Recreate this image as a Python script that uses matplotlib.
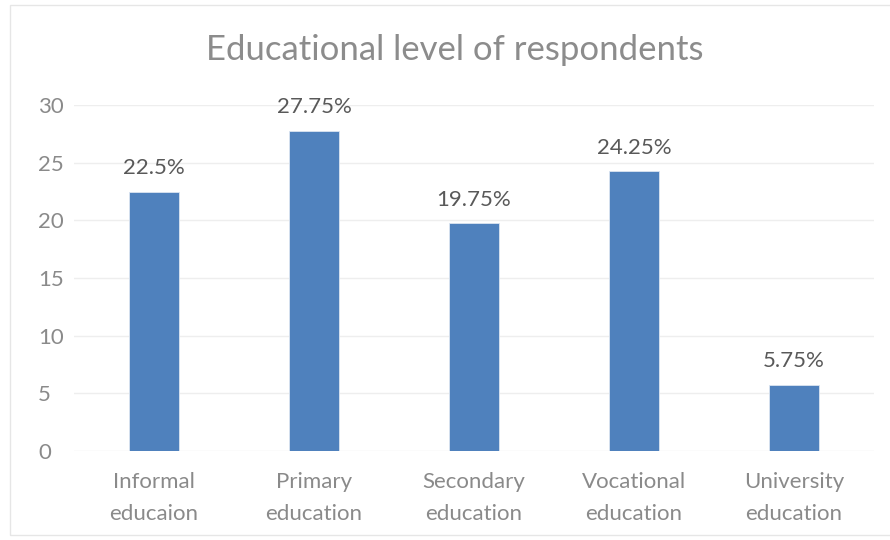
import matplotlib
matplotlib.use("Agg")
import matplotlib.pyplot as plt
from matplotlib.patches import Rectangle

categories = ["Informal\neducaion", "Primary\neducation", "Secondary\neducation",
              "Vocational\neducation", "University\neducation"]
values = [22.5, 27.75, 19.75, 24.25, 5.75]
value_labels = ["22.5%", "27.75%", "19.75%", "24.25%", "5.75%"]
y_ticks = [0, 5, 10, 15, 20, 25, 30]

plt.rcParams["font.family"] = ["Lato", "DejaVu Sans"]

fig = plt.figure(figsize=(8.9, 5.4), dpi=100)
ax = fig.add_axes([74 / 890, 1 - 451 / 540, 800 / 890, 346 / 540])

# chart area frame
fig.patches.append(Rectangle((10 / 890, 5 / 540), 1.0, 530 / 540, transform=fig.transFigure,
                             fill=False, edgecolor="#e6e6e6", linewidth=1.0, zorder=0))

x = range(len(categories))
ax.bar(x, values, width=0.3125, color="#4f81bd", edgecolor="#dbe5f1", linewidth=0.6, zorder=3)

for xi, v, lab in zip(x, values, value_labels):
    ax.annotate(lab, (xi, v), xytext=(0, 17), textcoords="offset points",
                ha="center", va="center", fontsize=16, color="#595959")

ax.set_xlim(-0.5, len(categories) - 0.5)
ax.set_ylim(0, 30)
ax.set_yticks(y_ticks)
ax.set_xticks(list(x))
ax.set_xticklabels(categories, fontsize=16, color="#8a8a8a", linespacing=1.75)
ax.tick_params(axis="y", labelsize=16, labelcolor="#8a8a8a", length=0, pad=26)
ax.tick_params(axis="x", length=0, pad=15)
for lbl in ax.get_yticklabels():
    lbl.set_horizontalalignment("left")
ax.grid(axis="y", color="#eeeeee", linewidth=1.0, zorder=0)
for s in ax.spines.values():
    s.set_visible(False)

fig.text(455 / 890, 1 - 50 / 540, "Educational level of respondents", ha="center", va="center",
         fontsize=25, color="#8c8c8c")

fig.savefig("out.png", dpi=100)
